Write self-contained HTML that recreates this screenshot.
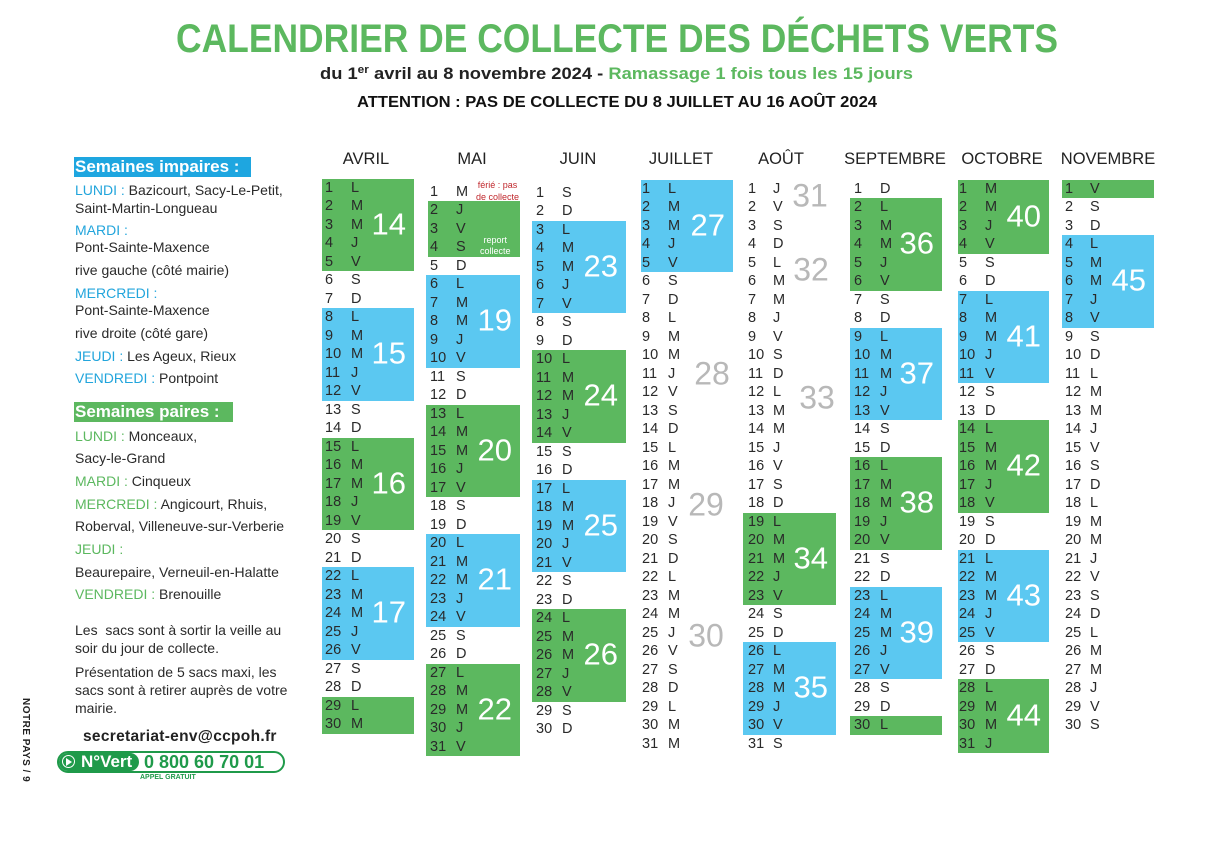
<!DOCTYPE html>
<html><head><meta charset="utf-8"><style>
*{margin:0;padding:0}
body{width:1222px;height:866px;background:#fff;position:relative;overflow:hidden;font-family:"Liberation Sans",sans-serif;color:#2a2a2a}
.a{position:absolute;white-space:nowrap}
.mh{position:absolute;top:150px;font-size:16.5px;color:#222;transform:translateX(-50%)}
.col{position:absolute;font-size:14.5px;line-height:18.5px;color:#2a2a2a}
.b{position:absolute}
.gr{background:#5cb85f}.bl{background:#5bc8f1}
.n{position:absolute;right:8px;top:50%;transform:translateY(-52%);color:#fff;font-size:31px}
.g{position:absolute;color:#b8b8b8;font-size:32px;transform:translate(-50%,-50%)}
.t{position:absolute;left:75px;font-size:14px;line-height:18px;color:#2a2a2a;white-space:nowrap}
.lb{color:#22a5dc}.lg{color:#5cb85f}
</style></head><body>
<svg class="a" style="left:0;top:0" width="1222" height="120">
<text x="176" y="52" textLength="882" lengthAdjust="spacingAndGlyphs" font-family="Liberation Sans" font-weight="bold" font-size="40" fill="#5cb85f">CALENDRIER DE COLLECTE DES DÉCHETS VERTS</text>
<text x="320" y="79" textLength="593" lengthAdjust="spacingAndGlyphs" font-family="Liberation Sans" font-weight="bold" font-size="17" fill="#222">du 1<tspan font-size="11" dy="-6">er</tspan><tspan dy="6"> avril au 8 novembre 2024 - </tspan><tspan fill="#5cb85f">Ramassage 1 fois tous les 15 jours</tspan></text>
<text x="357" y="107" textLength="520" lengthAdjust="spacingAndGlyphs" font-family="Liberation Sans" font-weight="bold" font-size="16" fill="#111">ATTENTION : PAS DE COLLECTE DU 8 JUILLET AU 16 AOÛT 2024</text>
</svg>

<div class="mh" style="left:366px">AVRIL</div>
<div class="mh" style="left:472px">MAI</div>
<div class="mh" style="left:578px">JUIN</div>
<div class="mh" style="left:681px">JUILLET</div>
<div class="mh" style="left:781px">AOÛT</div>
<div class="mh" style="left:895px">SEPTEMBRE</div>
<div class="mh" style="left:1002px">OCTOBRE</div>
<div class="mh" style="left:1108px">NOVEMBRE</div>

<!-- blocks -->
<div class="b gr" style="left:322px;width:92px;top:178.5px;height:92.5px"><span class="n">14</span></div>
<div class="b bl" style="left:322px;width:92px;top:308px;height:92.5px"><span class="n">15</span></div>
<div class="b gr" style="left:322px;width:92px;top:437.5px;height:92.5px"><span class="n">16</span></div>
<div class="b bl" style="left:322px;width:92px;top:567px;height:92.5px"><span class="n">17</span></div>
<div class="b gr" style="left:322px;width:92px;top:696.5px;height:37px"></div>

<div class="b gr" style="left:428px;width:92px;top:201px;height:55.5px"><span class="a" style="left:52px;top:34px;font-size:9px;line-height:11px;color:#fff;text-align:center">report<br>collecte</span></div>
<div class="b bl" style="left:426px;width:94px;top:275px;height:92.5px"><span class="n">19</span></div>
<div class="b gr" style="left:426px;width:94px;top:404.5px;height:92.5px"><span class="n">20</span></div>
<div class="b bl" style="left:426px;width:94px;top:534px;height:92.5px"><span class="n">21</span></div>
<div class="b gr" style="left:426px;width:94px;top:663.5px;height:92.5px"><span class="n">22</span></div>

<div class="b bl" style="left:532px;width:94px;top:220.5px;height:92.5px"><span class="n">23</span></div>
<div class="b gr" style="left:532px;width:94px;top:350px;height:92.5px"><span class="n">24</span></div>
<div class="b bl" style="left:532px;width:94px;top:479.5px;height:92.5px"><span class="n">25</span></div>
<div class="b gr" style="left:532px;width:94px;top:609px;height:92.5px"><span class="n">26</span></div>

<div class="b bl" style="left:641px;width:92px;top:179.5px;height:92.5px"><span class="n">27</span></div>

<div class="b gr" style="left:743px;width:93px;top:512.5px;height:92.5px"><span class="n">34</span></div>
<div class="b bl" style="left:743px;width:93px;top:642px;height:92.5px"><span class="n">35</span></div>

<div class="b gr" style="left:850px;width:92px;top:198px;height:92.5px"><span class="n">36</span></div>
<div class="b bl" style="left:850px;width:92px;top:327.5px;height:92.5px"><span class="n">37</span></div>
<div class="b gr" style="left:850px;width:92px;top:457px;height:92.5px"><span class="n">38</span></div>
<div class="b bl" style="left:850px;width:92px;top:586.5px;height:92.5px"><span class="n">39</span></div>
<div class="b gr" style="left:850px;width:92px;top:716px;height:18.5px"></div>

<div class="b gr" style="left:958px;width:91px;top:179.5px;height:74px"><span class="n">40</span></div>
<div class="b bl" style="left:958px;width:91px;top:290.5px;height:92.5px"><span class="n">41</span></div>
<div class="b gr" style="left:958px;width:91px;top:420px;height:92.5px"><span class="n">42</span></div>
<div class="b bl" style="left:958px;width:91px;top:549.5px;height:92.5px"><span class="n">43</span></div>
<div class="b gr" style="left:958px;width:91px;top:679px;height:74px"><span class="n">44</span></div>

<div class="b gr" style="left:1062px;width:92px;top:179.5px;height:18.5px"></div>
<div class="b bl" style="left:1062px;width:92px;top:235px;height:92.5px"><span class="n">45</span></div>

<div class="a" style="left:476px;top:179px;font-size:9px;line-height:12px;color:#c0282d;text-align:center">férié : pas<br>de collecte</div>

<div class="g" style="left:712px;top:374px">28</div>
<div class="g" style="left:706px;top:505px">29</div>
<div class="g" style="left:706px;top:636px">30</div>
<div class="g" style="left:810px;top:196px">31</div>
<div class="g" style="left:811px;top:270px">32</div>
<div class="g" style="left:817px;top:398px">33</div>

<!-- day columns -->
<div class="col" style="left:325px;top:178.75px">1<br>2<br>3<br>4<br>5<br>6<br>7<br>8<br>9<br>10<br>11<br>12<br>13<br>14<br>15<br>16<br>17<br>18<br>19<br>20<br>21<br>22<br>23<br>24<br>25<br>26<br>27<br>28<br>29<br>30</div>
<div class="col" style="left:351px;top:178.75px">L<br>M<br>M<br>J<br>V<br>S<br>D<br>L<br>M<br>M<br>J<br>V<br>S<br>D<br>L<br>M<br>M<br>J<br>V<br>S<br>D<br>L<br>M<br>M<br>J<br>V<br>S<br>D<br>L<br>M</div>

<div class="col" style="left:430px;top:182.75px">1<br>2<br>3<br>4<br>5<br>6<br>7<br>8<br>9<br>10<br>11<br>12<br>13<br>14<br>15<br>16<br>17<br>18<br>19<br>20<br>21<br>22<br>23<br>24<br>25<br>26<br>27<br>28<br>29<br>30<br>31</div>
<div class="col" style="left:456px;top:182.75px">M<br>J<br>V<br>S<br>D<br>L<br>M<br>M<br>J<br>V<br>S<br>D<br>L<br>M<br>M<br>J<br>V<br>S<br>D<br>L<br>M<br>M<br>J<br>V<br>S<br>D<br>L<br>M<br>M<br>J<br>V</div>

<div class="col" style="left:536px;top:183.75px">1<br>2<br>3<br>4<br>5<br>6<br>7<br>8<br>9<br>10<br>11<br>12<br>13<br>14<br>15<br>16<br>17<br>18<br>19<br>20<br>21<br>22<br>23<br>24<br>25<br>26<br>27<br>28<br>29<br>30</div>
<div class="col" style="left:562px;top:183.75px">S<br>D<br>L<br>M<br>M<br>J<br>V<br>S<br>D<br>L<br>M<br>M<br>J<br>V<br>S<br>D<br>L<br>M<br>M<br>J<br>V<br>S<br>D<br>L<br>M<br>M<br>J<br>V<br>S<br>D</div>

<div class="col" style="left:642px;top:179.75px">1<br>2<br>3<br>4<br>5<br>6<br>7<br>8<br>9<br>10<br>11<br>12<br>13<br>14<br>15<br>16<br>17<br>18<br>19<br>20<br>21<br>22<br>23<br>24<br>25<br>26<br>27<br>28<br>29<br>30<br>31</div>
<div class="col" style="left:668px;top:179.75px">L<br>M<br>M<br>J<br>V<br>S<br>D<br>L<br>M<br>M<br>J<br>V<br>S<br>D<br>L<br>M<br>M<br>J<br>V<br>S<br>D<br>L<br>M<br>M<br>J<br>V<br>S<br>D<br>L<br>M<br>M</div>

<div class="col" style="left:748px;top:179.75px">1<br>2<br>3<br>4<br>5<br>6<br>7<br>8<br>9<br>10<br>11<br>12<br>13<br>14<br>15<br>16<br>17<br>18<br>19<br>20<br>21<br>22<br>23<br>24<br>25<br>26<br>27<br>28<br>29<br>30<br>31</div>
<div class="col" style="left:773px;top:179.75px">J<br>V<br>S<br>D<br>L<br>M<br>M<br>J<br>V<br>S<br>D<br>L<br>M<br>M<br>J<br>V<br>S<br>D<br>L<br>M<br>M<br>J<br>V<br>S<br>D<br>L<br>M<br>M<br>J<br>V<br>S</div>

<div class="col" style="left:854px;top:179.75px">1<br>2<br>3<br>4<br>5<br>6<br>7<br>8<br>9<br>10<br>11<br>12<br>13<br>14<br>15<br>16<br>17<br>18<br>19<br>20<br>21<br>22<br>23<br>24<br>25<br>26<br>27<br>28<br>29<br>30</div>
<div class="col" style="left:880px;top:179.75px">D<br>L<br>M<br>M<br>J<br>V<br>S<br>D<br>L<br>M<br>M<br>J<br>V<br>S<br>D<br>L<br>M<br>M<br>J<br>V<br>S<br>D<br>L<br>M<br>M<br>J<br>V<br>S<br>D<br>L</div>

<div class="col" style="left:959px;top:179.75px">1<br>2<br>3<br>4<br>5<br>6<br>7<br>8<br>9<br>10<br>11<br>12<br>13<br>14<br>15<br>16<br>17<br>18<br>19<br>20<br>21<br>22<br>23<br>24<br>25<br>26<br>27<br>28<br>29<br>30<br>31</div>
<div class="col" style="left:985px;top:179.75px">M<br>M<br>J<br>V<br>S<br>D<br>L<br>M<br>M<br>J<br>V<br>S<br>D<br>L<br>M<br>M<br>J<br>V<br>S<br>D<br>L<br>M<br>M<br>J<br>V<br>S<br>D<br>L<br>M<br>M<br>J</div>

<div class="col" style="left:1065px;top:179.75px">1<br>2<br>3<br>4<br>5<br>6<br>7<br>8<br>9<br>10<br>11<br>12<br>13<br>14<br>15<br>16<br>17<br>18<br>19<br>20<br>21<br>22<br>23<br>24<br>25<br>26<br>27<br>28<br>29<br>30</div>
<div class="col" style="left:1090px;top:179.75px">V<br>S<br>D<br>L<br>M<br>M<br>J<br>V<br>S<br>D<br>L<br>M<br>M<br>J<br>V<br>S<br>D<br>L<br>M<br>M<br>J<br>V<br>S<br>D<br>L<br>M<br>M<br>J<br>V<br>S</div>

<!-- left panel -->
<div class="a" style="left:74px;top:157px;height:20px;width:176px;background:#1ea6e0;color:#fff;font-size:17px;font-weight:bold;line-height:20px;padding-left:1px">Semaines impaires :</div>
<div class="t" style="top:181px"><span class="lb">LUNDI :</span> Bazicourt, Sacy-Le-Petit,</div>
<div class="t" style="top:199px">Saint-Martin-Longueau</div>
<div class="t" style="top:221px"><span class="lb">MARDI :</span></div>
<div class="t" style="top:238px">Pont-Sainte-Maxence</div>
<div class="t" style="top:261px">rive gauche (côté mairie)</div>
<div class="t" style="top:284px"><span class="lb">MERCREDI :</span></div>
<div class="t" style="top:301px">Pont-Sainte-Maxence</div>
<div class="t" style="top:324px">rive droite (côté gare)</div>
<div class="t" style="top:347px"><span class="lb">JEUDI :</span> Les Ageux, Rieux</div>
<div class="t" style="top:369px"><span class="lb">VENDREDI :</span> Pontpoint</div>
<div class="a" style="left:74px;top:402px;height:20px;width:158px;background:#5cb85f;color:#fff;font-size:17px;font-weight:bold;line-height:20px;padding-left:1px">Semaines paires :</div>
<div class="t" style="top:427px"><span class="lg">LUNDI :</span> Monceaux,</div>
<div class="t" style="top:449px">Sacy-le-Grand</div>
<div class="t" style="top:472px"><span class="lg">MARDI :</span> Cinqueux</div>
<div class="t" style="top:495px"><span class="lg">MERCREDI :</span> Angicourt, Rhuis,</div>
<div class="t" style="top:517px">Roberval, Villeneuve-sur-Verberie</div>
<div class="t" style="top:540px"><span class="lg">JEUDI :</span></div>
<div class="t" style="top:563px">Beaurepaire, Verneuil-en-Halatte</div>
<div class="t" style="top:585px"><span class="lg">VENDREDI :</span> Brenouille</div>
<div class="t" style="top:621px">Les&nbsp; sacs sont à sortir la veille au</div>
<div class="t" style="top:639px">soir du jour de collecte.</div>
<div class="t" style="top:663px">Présentation de 5 sacs maxi, les</div>
<div class="t" style="top:681px">sacs sont à retirer auprès de votre</div>
<div class="t" style="top:699px">mairie.</div>
<div class="a" style="left:83px;top:728px;font-size:15.5px;font-weight:bold;color:#222;letter-spacing:0.3px">secretariat-env@ccpoh.fr</div>
<div class="a" style="left:57px;top:751px;width:224px;height:18px;border:2px solid #1f9a4a;border-radius:12px;overflow:hidden">
 <div class="a" style="left:0;top:0;width:80px;height:18px;background:#1f9a4a;border-radius:0 10px 10px 0"></div>
 <div class="a" style="left:3px;top:2px;width:11px;height:11px;border:1.5px solid #fff;border-radius:50%"></div>
 <div class="a" style="left:7px;top:5px;width:0;height:0;border-left:6px solid #fff;border-top:4px solid transparent;border-bottom:4px solid transparent"></div>
 <div class="a" style="left:22px;top:-1px;color:#fff;font-weight:bold;font-size:17px;line-height:20px">N°Vert</div>
 <div class="a" style="left:85px;top:-1px;color:#1f9a4a;font-weight:bold;font-size:18px;line-height:20px">0 800 60 70 01</div>
</div>
<div class="a" style="left:140px;top:774px;font-size:7px;font-weight:bold;color:#1f9a4a">APPEL GRATUIT</div>
<div class="a" style="left:17px;top:698px;font-size:10px;font-weight:bold;color:#222;transform-origin:0 0;transform:translate(14px,0) rotate(90deg);letter-spacing:0.5px">NOTRE PAYS / 9</div>
</body></html>
